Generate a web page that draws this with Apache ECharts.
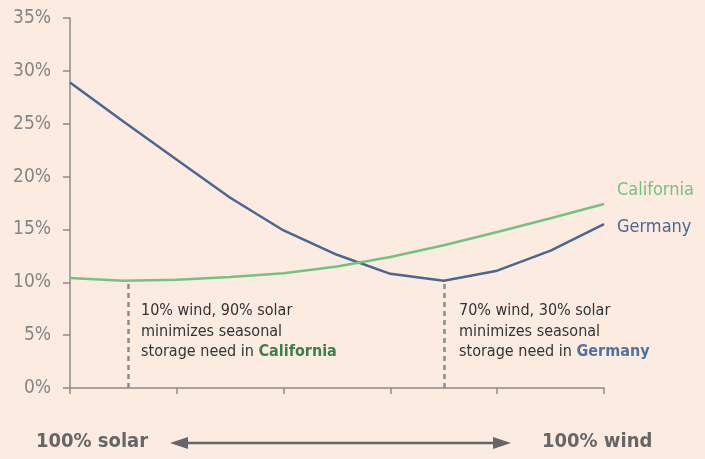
<!DOCTYPE html>
<html>
<head>
<meta charset="utf-8">
<script src="https://cdn.jsdelivr.net/npm/echarts@6/dist/echarts.min.js"></script>
<style>
  html, body { margin: 0; padding: 0; background: #fcebe1; }
  #chart { width: 705px; height: 459px; }
</style>
</head>
<body>
<div id="chart"></div>
<script>
// share of wind in the mix (%)
const windShare = [0, 10, 20, 30, 40, 50, 60, 70, 80, 90, 100]
// seasonal storage need (%)
const germany = [28.9, 25.2, 21.6, 18.0, 14.9, 12.6, 10.8, 10.15, 11.1, 13.0, 15.5]
const california = [10.4, 10.15, 10.25, 10.5, 10.85, 11.5, 12.4, 13.5, 14.75, 16.05, 17.4]
const yTicks = [0, 5, 10, 15, 20, 25, 30, 35]
// minimum markers (wind %, storage %)
const caMin = [11, 10.15]
const deMin = [70, 10.15]

const font = "'Liberation Sans Narrow', 'DejaVu Sans Condensed', sans-serif"
const gray = '#8c8c8c'
const blue = '#4b6790'
const green = '#74c27f'

function pairs (xs, ys) {
    return xs.map((x, i) => [x, ys[i]])
}

function dropLine (pt) {
    return [{ coord: [pt[0], 0] }, { coord: pt }]
}

const chart = echarts.init(document.getElementById('chart'))
const option = {
    backgroundColor: '#fcebe1',
    animation: false,
    grid: { left: 70, right: 101, top: 18, bottom: 71 },
    xAxis: {
        type: 'value',
        min: 0,
        max: 100,
        interval: 20,
        axisLine: { lineStyle: { color: gray, width: 1.5 } },
        axisTick: { show: true, length: 6, lineStyle: { color: gray, width: 1.5 } },
        axisLabel: { show: false },
        splitLine: { show: false }
    },
    yAxis: {
        type: 'value',
        min: yTicks[0],
        max: yTicks[yTicks.length - 1],
        interval: 5,
        axisLine: { show: true, lineStyle: { color: gray, width: 1.5 } },
        axisTick: { show: true, length: 7, lineStyle: { color: gray, width: 1.5 } },
        axisLabel: {
            color: '#858585',
            fontFamily: font,
            fontSize: 19,
            margin: 19,
            formatter: '{value}%'
        },
        splitLine: { show: false }
    },
    series: [
        {
            name: 'Germany',
            type: 'line',
            data: pairs(windShare, germany),
            showSymbol: false,
            lineStyle: { color: blue, width: 2.5 },
            endLabel: {
                show: true,
                formatter: '{a}',
                color: blue,
                fontFamily: font,
                fontSize: 18,
                offset: [5, 3]
            },
            markLine: {
                silent: true,
                symbol: 'none',
                label: { show: false },
                lineStyle: { color: gray, type: [5, 4], width: 2.5 },
                data: [dropLine(deMin)]
            }
        },
        {
            name: 'California',
            type: 'line',
            data: pairs(windShare, california),
            showSymbol: false,
            lineStyle: { color: green, width: 2.5 },
            endLabel: {
                show: true,
                formatter: '{a}',
                color: green,
                fontFamily: font,
                fontSize: 18,
                offset: [5, -14]
            },
            markLine: {
                silent: true,
                symbol: 'none',
                label: { show: false },
                lineStyle: { color: gray, type: [5, 4], width: 2.5 },
                data: [dropLine(caMin)]
            }
        }
    ],
    graphic: [
        {
            type: 'text',
            left: 141,
            top: 301,
            style: {
                text: '10% wind, 90% solar\nminimizes seasonal\nstorage need in {ca|California}',
                fill: '#333',
                font: '16px ' + font,
                lineHeight: 20.5,
                rich: {
                    ca: { fill: '#3d7f4c', fontWeight: 'bold', fontSize: 16, fontFamily: font }
                }
            }
        },
        {
            type: 'text',
            left: 459,
            top: 301,
            style: {
                text: '70% wind, 30% solar\nminimizes seasonal\nstorage need in {de|Germany}',
                fill: '#333',
                font: '16px ' + font,
                lineHeight: 20.5,
                rich: {
                    de: { fill: '#4f72a0', fontWeight: 'bold', fontSize: 16, fontFamily: font }
                }
            }
        },
        {
            type: 'text',
            left: 36,
            top: 432,
            style: { text: '100% solar', fill: '#666', font: 'bold 20px ' + font }
        },
        {
            type: 'text',
            left: 542,
            top: 432,
            style: { text: '100% wind', fill: '#666', font: 'bold 20px ' + font }
        },
        {
            type: 'line',
            shape: { x1: 178, y1: 443, x2: 503, y2: 443 },
            style: { stroke: '#666', lineWidth: 2.5 }
        },
        {
            type: 'polygon',
            shape: { points: [[170, 443], [188, 437], [188, 449]] },
            style: { fill: '#666' }
        },
        {
            type: 'polygon',
            shape: { points: [[511, 443], [493, 437], [493, 449]] },
            style: { fill: '#666' }
        }
    ]
}
chart.setOption(option)
</script>
</body>
</html>
